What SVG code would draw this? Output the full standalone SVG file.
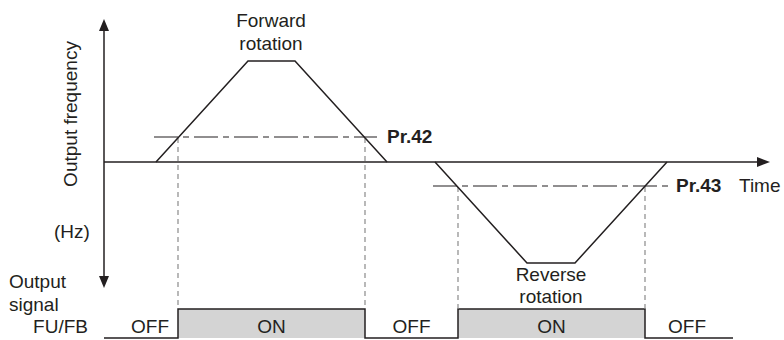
<svg xmlns="http://www.w3.org/2000/svg" width="784" height="340" viewBox="0 0 784 340">
<style>
text{font-family:"Liberation Sans",Arial,sans-serif;font-size:19px;fill:#231f20}
.b{font-weight:bold}
.ln{fill:none;stroke:#231f20;stroke-width:1.5}
.dd{fill:none;stroke:#231f20;stroke-width:1.2;stroke-dasharray:24 5 6 5}
.vd{fill:none;stroke:#8a8a8a;stroke-width:1.2;stroke-dasharray:5 4}
.on{fill:#d4d4d4;stroke:none}
.ah{fill:#231f20}
</style>
<rect width="784" height="340" fill="#fff"/>
<g id="axes">
<line class="ln" x1="104" y1="28" x2="104" y2="279"/>
<polygon class="ah" points="104,19 99,31 109,31"/>
<polygon class="ah" points="104,288 99,276 109,276"/>
<line class="ln" x1="104" y1="162" x2="760" y2="162"/>
<polygon class="ah" points="770,162 757,157 757,167"/>
</g>
<g id="signal">
<rect class="on" x="178" y="309" width="187" height="29"/>
<rect class="on" x="458" y="309" width="187" height="29"/>
<path class="ln" d="M104,338 H178 V309 H365 V338 H458 V309 H645 V338 H733"/>
</g>
<g id="guides">
<line class="dd" x1="154" y1="137" x2="377" y2="137"/>
<line class="dd" x1="433" y1="186" x2="671" y2="186"/>
<line class="vd" x1="178" y1="138" x2="178" y2="309"/>
<line class="vd" x1="365" y1="138" x2="365" y2="309"/>
<line class="vd" x1="458" y1="187" x2="458" y2="309"/>
<line class="vd" x1="645" y1="187" x2="645" y2="309"/>
</g>
<g id="curves">
<polyline class="ln" points="156,162 248,61 295,61 387,162"/>
<polyline class="ln" points="435,162 527,263 575,263 667,162"/>
</g>
<g id="labels">
<text x="271" y="27" text-anchor="middle">Forward</text>
<text x="271" y="50" text-anchor="middle">rotation</text>
<text x="551" y="281" text-anchor="middle">Reverse</text>
<text x="551" y="303" text-anchor="middle">rotation</text>
<text class="b" x="387" y="143">Pr.42</text>
<text class="b" x="676" y="192">Pr.43</text>
<text x="739" y="192">Time</text>
<text transform="translate(77,114) rotate(-90)" text-anchor="middle">Output frequency</text>
<text x="72" y="238" text-anchor="middle">(Hz)</text>
<text x="9" y="288">Output</text>
<text x="9" y="311">signal</text>
<text x="88" y="333" text-anchor="end">FU/FB</text>
<text x="150" y="333" text-anchor="middle">OFF</text>
<text x="271.5" y="333" text-anchor="middle">ON</text>
<text x="411.5" y="333" text-anchor="middle">OFF</text>
<text x="551.5" y="333" text-anchor="middle">ON</text>
<text x="687" y="333" text-anchor="middle">OFF</text>
</g>
</svg>
